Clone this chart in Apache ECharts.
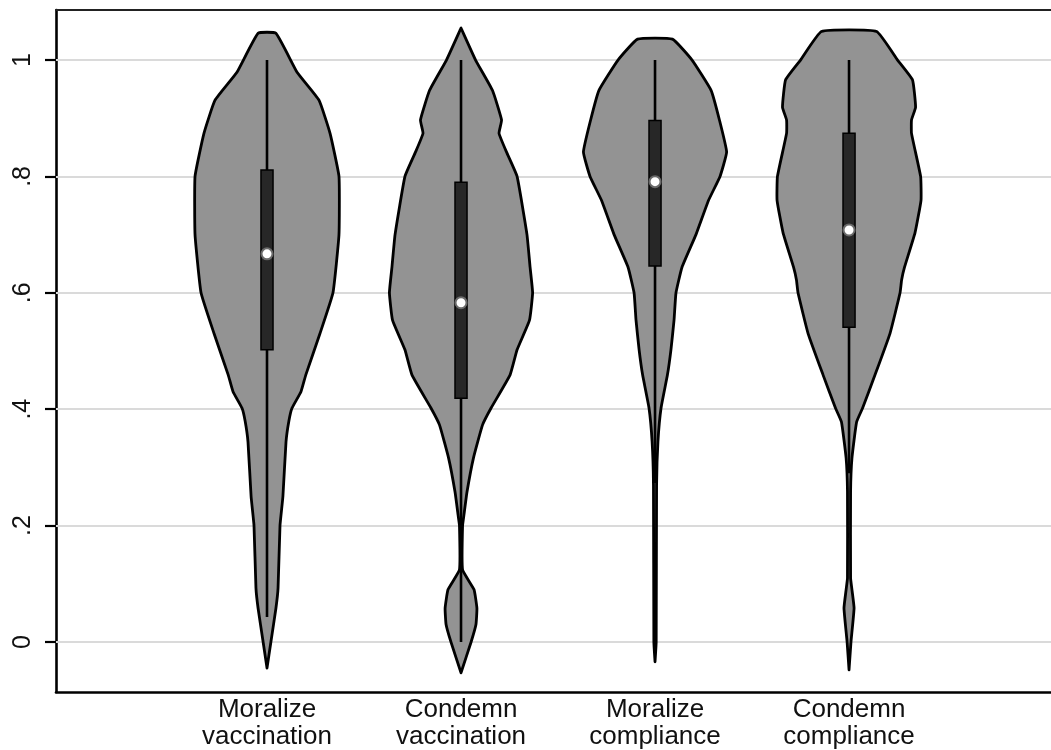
<!DOCTYPE html>
<html>
<head>
<meta charset="utf-8">
<script src="https://cdn.jsdelivr.net/npm/echarts@6/dist/echarts.min.js"></script>
<style>html,body{margin:0;padding:0;background:#fff}#c{width:1051px;height:750px}</style>
</head>
<body>
<div id="c"></div>
<script>
// ---- data ----
const categories = ['Moralize\nvaccination', 'Condemn\nvaccination', 'Moralize\ncompliance', 'Condemn\ncompliance'];
const positions = [1, 2, 3, 4];
const yTicks = [0, 0.2, 0.4, 0.6, 0.8, 1];
const yTickLabels = ['0', '.2', '.4', '.6', '.8', '1'];

// density profiles: [value, half-width] (half-width in category units)
const densityMoralizeVacc = [
  [-0.045, 0], [0.0, 0.02], [0.058, 0.046], [0.093, 0.057], [0.2, 0.067], [0.25, 0.082],
  [0.344, 0.098], [0.38, 0.113], [0.402, 0.129], [0.43, 0.175], [0.459, 0.2], [0.53, 0.273],
  [0.6, 0.34], [0.7, 0.371], [0.8, 0.371], [0.874, 0.325], [0.931, 0.268], [0.979, 0.155],
  [1.046, 0.046]
];
const densityCondemnVacc = [
  [-0.053, 0], [0.0, 0.052], [0.03, 0.077], [0.058, 0.082], [0.09, 0.067], [0.124, 0.008],
  [0.2, 0.008], [0.218, 0.015], [0.258, 0.031], [0.316, 0.064], [0.373, 0.111], [0.402, 0.155],
  [0.459, 0.253], [0.502, 0.289], [0.553, 0.353], [0.6, 0.369], [0.644, 0.356], [0.7, 0.34],
  [0.8, 0.289], [0.84, 0.237], [0.874, 0.196], [0.897, 0.209], [0.948, 0.162], [1.0, 0.075],
  [1.055, 0]
];
const densityMoralizeComp = [
  [-0.034, 0], [0.0, 0.006], [0.27, 0.008], [0.344, 0.015], [0.402, 0.031], [0.459, 0.064],
  [0.502, 0.082], [0.553, 0.098], [0.6, 0.108], [0.644, 0.139], [0.7, 0.211], [0.759, 0.276],
  [0.8, 0.335], [0.842, 0.369], [0.897, 0.332], [0.948, 0.289], [1.0, 0.191], [1.036, 0.09]
];
const densityCondemnComp = [
  [-0.048, 0], [0.0, 0.01], [0.058, 0.026], [0.09, 0.015], [0.11, 0.008], [0.258, 0.008],
  [0.316, 0.015], [0.378, 0.039], [0.402, 0.07], [0.459, 0.134], [0.53, 0.211], [0.6, 0.263],
  [0.622, 0.271], [0.644, 0.286], [0.703, 0.34], [0.759, 0.371], [0.8, 0.369], [0.874, 0.322],
  [0.897, 0.322], [0.919, 0.343], [0.966, 0.327], [1.0, 0.25], [1.049, 0.142]
];
const densities = [densityMoralizeVacc, densityCondemnVacc, densityMoralizeComp, densityCondemnComp];

const q1Values = [0.502, 0.419, 0.646, 0.541];
const medianValues = [0.667, 0.583, 0.791, 0.708];
const q3Values = [0.811, 0.790, 0.896, 0.874];
const whiskerLow = [0.043, 0.0, 0.273, 0.29];
const whiskerHigh = [1.0, 1.0, 1.0, 1.0];

// ---- chart ----
const chart = echarts.init(document.getElementById('c'), null, {renderer: 'canvas'});
const BOX_HALF = 0.031;
const FONT = '"Liberation Sans", Arial, Helvetica, sans-serif';

function renderViolin(params, api) {
  const i = params.dataIndex;
  const cx = api.value(0);
  const prof = densities[i];
  const pts = [];
  for (let k = 0; k < prof.length; k++) pts.push(api.coord([cx + prof[k][1], prof[k][0]]));
  for (let k = prof.length - 1; k >= 0; k--) pts.push(api.coord([cx - prof[k][1], prof[k][0]]));
  const wTop = api.coord([cx, whiskerHigh[i]]);
  const wBot = api.coord([cx, whiskerLow[i]]);
  const bTL = api.coord([cx - BOX_HALF, q3Values[i]]);
  const bBR = api.coord([cx + BOX_HALF, q1Values[i]]);
  const med = api.coord([cx, medianValues[i]]);
  return {
    type: 'group',
    children: [
      {type: 'polygon', shape: {points: pts, smooth: 0.12}, style: {fill: '#939393', stroke: '#000', lineWidth: 2.8, lineJoin: 'round'}},
      {type: 'line', shape: {x1: wTop[0], y1: wTop[1], x2: wBot[0], y2: wBot[1]}, style: {stroke: '#000', lineWidth: 2.6}},
      {type: 'rect', shape: {x: bTL[0], y: bTL[1], width: bBR[0] - bTL[0], height: bBR[1] - bTL[1]}, style: {fill: '#272727', stroke: '#000', lineWidth: 1.5}},
      {type: 'circle', shape: {cx: med[0], cy: med[1], r: 5.5}, style: {fill: '#fff', stroke: '#6a6a6a', lineWidth: 2}}
    ]
  };
}

chart.setOption({
  animation: false,
  backgroundColor: '#fff',
  grid: {left: 56, right: 0, top: 10, bottom: 58, containLabel: false},
  xAxis: [
    {
      type: 'value', min: -0.0876, max: 5.041, position: 'bottom',
      axisLine: {show: true, onZero: false, lineStyle: {color: '#000', width: 2.6}},
      axisTick: {show: false},
      splitLine: {show: false},
      axisLabel: {
        customValues: positions,
        formatter: function (v) { return categories[positions.indexOf(v)]; },
        color: '#111', fontFamily: FONT, fontSize: 26, lineHeight: 27, margin: 4
      }
    },
    {
      type: 'value', min: -0.0876, max: 5.041, position: 'top',
      axisLine: {show: true, onZero: false, lineStyle: {color: '#222', width: 2.2}},
      axisTick: {show: false}, axisLabel: {show: false}, splitLine: {show: false}
    }
  ],
  yAxis: {
    type: 'value', min: -0.086, max: 1.086,
    axisLine: {show: true, onZero: false, lineStyle: {color: '#000', width: 2.6}},
    axisTick: {show: true, customValues: yTicks, length: 11, lineStyle: {color: '#000', width: 2.2}},
    splitLine: {show: false},
    axisLabel: {
      customValues: yTicks, rotate: 90, margin: 20,
      formatter: function (v) { return yTickLabels[yTicks.indexOf(v)]; },
      color: '#111', fontFamily: FONT, fontSize: 25
    }
  },
  series: [{
    type: 'custom',
    xAxisIndex: 0,
    z: 3,
    renderItem: renderViolin,
    data: positions.map(function (p, i) { return [p, medianValues[i]]; }),
    markLine: {
      silent: true, symbol: 'none', z: 1,
      label: {show: false},
      lineStyle: {color: '#dadada', width: 2.2, type: 'solid'},
      data: yTicks.map(function (t) { return {yAxis: t}; })
    }
  }]
});
</script>
</body>
</html>
